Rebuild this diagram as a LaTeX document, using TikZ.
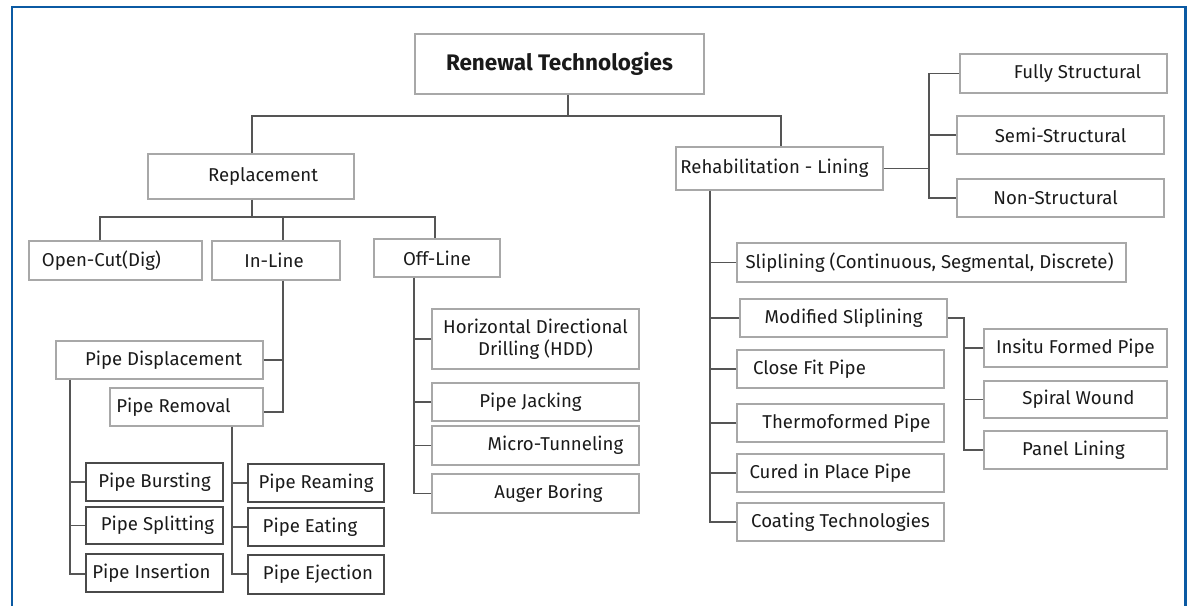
\documentclass[tikz,border=0pt]{standalone}
\usepackage{fontspec}
\setmainfont{Fira Sans}
\definecolor{boxgray}{HTML}{A8A8A8}
\definecolor{darkbox}{HTML}{4A4A4A}
\definecolor{linec}{HTML}{555555}
\definecolor{textc}{HTML}{1A1A1A}
\definecolor{framec}{HTML}{0B5AA3}
\newcommand\mybox[8]{\node[#1, minimum width={(#5)-(#3)}, minimum height={(#6)-(#4)}] (#2) at ({((#3)+(#5))/2},{((#4)+(#6))/2}) {\kern#7pt\kern#7pt #8};}
\begin{document}
\begin{tikzpicture}[x=1pt,y=-1pt,
  box/.style={draw=boxgray, line width=1.3pt, inner sep=0pt, text=textc, align=center, font=\fontsize{18.6}{22}\selectfont},
  dbox/.style={box, draw=darkbox},
  bigbox/.style={box, font=\fontsize{22.5}{26}\selectfont\bfseries},
  conn/.style={draw=linec, line width=1.5pt},
  frameline/.style={draw=framec, line width=2.6pt}]
\useasboundingbox (0,0) rectangle (1190,605);
\draw[frameline] (12,606) -- (12,7) -- (1185.5,7) -- (1185.5,606);

% boxes
\mybox{bigbox}{rt}{415}{34}{704}{94}{0}{Renewal Technologies}
\mybox{box}{rep}{148}{154}{354}{199}{12}{Replacement}
\mybox{box}{reh}{676}{147}{883}{190}{-5}{Rehabilitation - Lining}
\mybox{box}{fully}{960}{54}{1167}{93}{14}{Fully Structural}
\mybox{box}{semi}{957}{116}{1164}{154}{0}{Semi-Structural}
\mybox{box}{non}{957}{179}{1164}{217}{-5}{Non-Structural}
\mybox{box}{oc}{29}{241}{202}{280}{-14}{Open-Cut(Dig)}
\mybox{box}{inl}{212}{241}{340}{280}{-2}{In-Line}
\mybox{box}{off}{374}{239}{500}{277}{0}{Off-Line}
\mybox{box}{pd}{56}{341}{263}{379}{4}{Pipe Displacement}
\mybox{box}{rem}{110}{388}{263}{426}{-13}{Pipe Removal}
\mybox{dbox}{burst}{86}{463}{223}{501}{0}{Pipe Bursting}
\mybox{dbox}{split}{86}{507}{223}{544}{3}{Pipe Splitting}
\mybox{dbox}{ins}{86}{554}{223}{592}{-3}{Pipe Insertion}
\mybox{dbox}{ream}{248}{464}{384}{502}{0}{Pipe Reaming}
\mybox{dbox}{eat}{248}{508}{384}{546}{-6}{Pipe Eating}
\mybox{dbox}{ej}{248}{555}{384}{594}{2}{Pipe Ejection}
\mybox{box}{hdd}{432}{309}{639}{369}{0}{Horizontal Directional\\Drilling (HDD)}
\mybox{box}{jack}{432}{383}{639}{421}{-5}{Pipe Jacking}
\mybox{box}{micro}{432}{426}{639}{465}{20}{Micro-Tunneling}
\mybox{box}{auger}{432}{474}{639}{513}{13}{Auger Boring}
\mybox{box}{slip}{737}{243}{1126}{282}{-2}{Sliplining (Continuous, Segmental, Discrete)}
\mybox{box}{mod}{740}{299}{947}{337}{0}{Modified Sliplining}
\mybox{box}{close}{737}{350}{944}{388}{-31}{Close Fit Pipe}
\mybox{box}{thermo}{737}{404}{944}{442}{6}{Thermoformed Pipe}
\mybox{box}{cured}{737}{454}{944}{492}{-10}{Cured in Place Pipe}
\mybox{box}{coat}{737}{503}{944}{541}{0}{Coating Technologies}
\mybox{box}{insitu}{984}{329}{1167}{367}{0}{Insitu Formed Pipe}
\mybox{box}{spiral}{984}{381}{1167}{418}{3}{Spiral Wound}
\mybox{box}{panel}{984}{431}{1167}{469}{-2}{Panel Lining}

% junction coordinates
\coordinate (j0) at (568,116);
\coordinate (jr) at (252,116);
\coordinate (jh) at (781,116);
\coordinate (b) at (252,217);
\coordinate (coc) at (100,217);
\coordinate (cin) at (283,217);
\coordinate (coff) at (435,217);
\coordinate (vin) at (283,412);
\coordinate (pdb) at (70,574);
\coordinate (rmb) at (232,574);
\coordinate (ofb) at (414,493.5);
\coordinate (rhb) at (710,522);
\coordinate (rsb) at (929,167);
\coordinate (msb) at (964,318);

% connectors
\draw[conn] (j0 |- rt.south) -- (j0);
\draw[conn] (jr |- rep.north) -- (jr) -- (jh) -- (jh |- reh.north);
\draw[conn] (b |- rep.south) -- (b);
\draw[conn] (coc |- oc.north) -- (coc) -- (coff) -- (coff |- off.north);
\draw[conn] (cin) -- (cin |- inl.north);
\draw[conn] (cin |- inl.south) -- (vin) -- (vin -| rem.east);
\draw[conn] (pd.east) -- (pd.east -| vin);
\draw[conn] (pdb |- pd.south) -- (pdb) -- (pdb -| ins.west);
\draw[conn] (burst.west) -- (burst.west -| pdb);
\draw[conn] (split.west) -- (split.west -| pdb);
\draw[conn] (rmb |- rem.south) -- (rmb) -- (rmb -| ej.west);
\draw[conn] (ream.west) -- (ream.west -| rmb);
\draw[conn] (eat.west) -- (eat.west -| rmb);
\draw[conn] (ofb |- off.south) -- (ofb) -- (auger.west);
\draw[conn] (hdd.west) -- (hdd.west -| ofb);
\draw[conn] (jack.west) -- (jack.west -| ofb);
\draw[conn] (micro.west) -- (micro.west -| ofb);
\draw[conn] (rhb |- reh.south) -- (rhb) -- (coat.west);
\draw[conn] (slip.west) -- (slip.west -| rhb);
\draw[conn] (mod.west) -- (mod.west -| rhb);
\draw[conn] (close.west) -- (close.west -| rhb);
\draw[conn] (thermo.west) -- (thermo.west -| rhb);
\draw[conn] (cured.west) -- (cured.west -| rhb);
\draw[conn] (reh.east) -- (reh.east -| rsb);
\draw[conn] (fully.west) -- (fully.west -| rsb) -- (rsb |- non.west) -- (non.west);
\draw[conn] (semi.west) -- (semi.west -| rsb);
\draw[conn] (mod.east) -- (mod.east -| msb) -- (msb |- panel.west) -- (panel.west);
\draw[conn] (insitu.west) -- (insitu.west -| msb);
\draw[conn] (spiral.west) -- (spiral.west -| msb);
\end{tikzpicture}
\end{document}
